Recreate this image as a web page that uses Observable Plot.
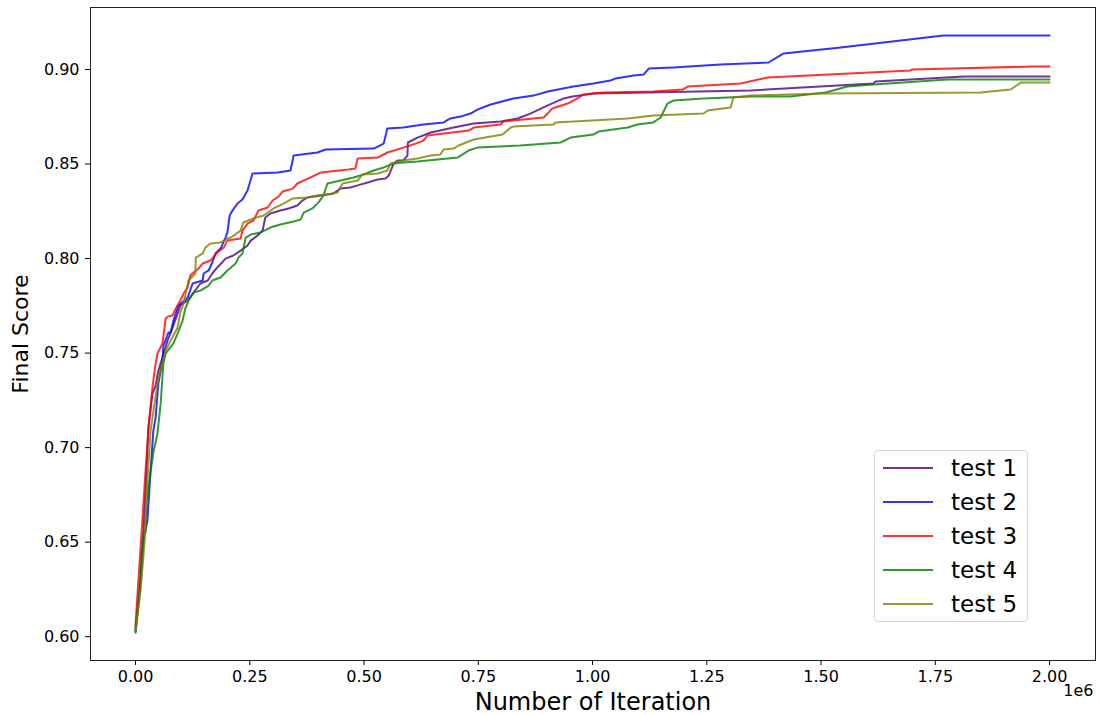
<!DOCTYPE html>
<html>
<head>
<meta charset="utf-8">
<script src="https://cdn.jsdelivr.net/npm/d3@7"></script>
<script src="https://cdn.jsdelivr.net/npm/@observablehq/plot@0.6"></script>
<style>
  html, body { margin: 0; padding: 0; background: #fff; }
  #wrap { position: relative; width: 1100px; height: 715px; font-family: "DejaVu Sans", sans-serif; }
  #legend { position: absolute; left: 874px; top: 450px; width: 154px; height: 172px;
    border: 1px solid #d6d6d6; border-radius: 4px; background: rgba(255,255,255,0.8); box-sizing: border-box; }
  .row { position: absolute; left: 0; height: 30px; display: flex; align-items: center; }
  .row svg { margin-left: 8px; }
  .row span { margin-left: 18px; font-size: 23px; color: #000; }
</style>
</head>
<body>
<div id="wrap"><div id="chart"></div><div id="legend"></div></div>
<script>
// x = iteration count, y = final score
const test1 = [[0,0.6043],[9000,0.6244],[17500,0.6561],[24000,0.6878],[28000,0.7106],[37000,0.7286],[44000,0.7328],[50000,0.7408],[59000,0.7476],[70000,0.7566],[81000,0.7635],[92000,0.7709],[98000,0.7752],[114000,0.7778],[127000,0.7820],[142000,0.7868],[158000,0.7884],[168000,0.7921],[179000,0.7953],[197000,0.8000],[214000,0.8016],[230000,0.8042],[245000,0.8069],[252000,0.8095],[267000,0.8122],[278000,0.8148],[284000,0.8217],[295000,0.8238],[317000,0.8254],[335000,0.8265],[354000,0.8281],[365000,0.8307],[376000,0.8323],[405000,0.8334],[433000,0.8344],[449000,0.8371],[470000,0.8376],[486000,0.8387],[508000,0.8402],[530000,0.8418],[547000,0.8423],[554000,0.8439],[565000,0.8503],[573000,0.8519],[586000,0.8519],[595000,0.8545],[596000,0.8614],[617000,0.8640],[646000,0.8667],[696000,0.8693],[740000,0.8714],[799000,0.8725],[836000,0.8741],[864000,0.8767],[902000,0.8810],[937000,0.8847],[956000,0.8857],[1002000,0.8873],[1346000,0.8889],[1615000,0.8926],[1619000,0.8937],[1812000,0.8963],[2000000,0.8963]];
const test2 = [[0,0.6032],[11000,0.6296],[17500,0.6508],[26000,0.6614],[33000,0.6878],[39000,0.7090],[44000,0.7159],[50000,0.7339],[59000,0.7460],[61000,0.7540],[72000,0.7609],[77000,0.7609],[83000,0.7672],[94000,0.7752],[114000,0.7794],[125000,0.7868],[147000,0.7884],[149000,0.7921],[160000,0.7937],[168000,0.7979],[175000,0.8027],[186000,0.8053],[197000,0.8111],[201000,0.8138],[206000,0.8228],[212000,0.8254],[223000,0.8291],[234000,0.8312],[245000,0.8360],[256000,0.8450],[311000,0.8455],[339000,0.8466],[346000,0.8545],[398000,0.8561],[416000,0.8577],[521000,0.8582],[543000,0.8608],[551000,0.8688],[586000,0.8693],[630000,0.8709],[674000,0.8720],[689000,0.8741],[711000,0.8751],[733000,0.8767],[748000,0.8788],[777000,0.8815],[827000,0.8847],[871000,0.8862],[902000,0.8884],[958000,0.8910],[1002000,0.8926],[1039000,0.8942],[1050000,0.8952],[1090000,0.8968],[1112000,0.8974],[1123000,0.9005],[1177000,0.9011],[1280000,0.9026],[1385000,0.9037],[1418000,0.9085],[1543000,0.9116],[1768000,0.9180],[2000000,0.9180]];
const test3 = [[0,0.6059],[7000,0.6323],[15000,0.6614],[22000,0.6878],[28000,0.7090],[37000,0.7318],[44000,0.7445],[48000,0.7498],[59000,0.7551],[66000,0.7683],[70000,0.7693],[81000,0.7699],[88000,0.7736],[98000,0.7778],[105000,0.7815],[114000,0.7847],[120000,0.7910],[127000,0.7926],[138000,0.7947],[147000,0.7974],[164000,0.7990],[179000,0.8032],[193000,0.8058],[201000,0.8095],[230000,0.8106],[234000,0.8148],[245000,0.8185],[258000,0.8201],[269000,0.8254],[289000,0.8270],[300000,0.8307],[313000,0.8328],[322000,0.8355],[344000,0.8370],[354000,0.8397],[383000,0.8429],[405000,0.8455],[466000,0.8471],[481000,0.8476],[486000,0.8529],[530000,0.8534],[551000,0.8561],[586000,0.8587],[613000,0.8608],[630000,0.8624],[639000,0.8651],[729000,0.8677],[740000,0.8693],[799000,0.8709],[805000,0.8725],[893000,0.8746],[904000,0.8773],[912000,0.8794],[945000,0.8820],[967000,0.8847],[980000,0.8868],[1022000,0.8878],[1133000,0.8884],[1197000,0.8894],[1208000,0.8910],[1324000,0.8926],[1383000,0.8958],[1696000,0.8995],[1700000,0.9000],[1965000,0.9016],[2000000,0.9016]];
const test4 = [[0,0.6022],[7000,0.6191],[11000,0.6313],[17500,0.6545],[22000,0.6551],[28000,0.6789],[39000,0.6974],[48000,0.7074],[55000,0.7233],[61000,0.7445],[66000,0.7498],[83000,0.7551],[92000,0.7603],[103000,0.7672],[109000,0.7736],[116000,0.7778],[127000,0.7820],[142000,0.7831],[160000,0.7857],[168000,0.7884],[186000,0.7900],[201000,0.7937],[219000,0.7974],[225000,0.8005],[234000,0.8027],[241000,0.8111],[252000,0.8127],[274000,0.8138],[295000,0.8164],[317000,0.8180],[346000,0.8196],[361000,0.8206],[368000,0.8243],[387000,0.8265],[400000,0.8296],[411000,0.8333],[420000,0.8397],[449000,0.8413],[477000,0.8429],[499000,0.8445],[521000,0.8466],[543000,0.8482],[565000,0.8503],[586000,0.8508],[617000,0.8513],[705000,0.8534],[729000,0.8572],[748000,0.8587],[842000,0.8598],[930000,0.8614],[952000,0.8640],[1002000,0.8656],[1013000,0.8672],[1077000,0.8693],[1098000,0.8709],[1133000,0.8720],[1149000,0.8746],[1164000,0.8820],[1177000,0.8836],[1243000,0.8847],[1346000,0.8857],[1433000,0.8857],[1510000,0.8878],[1558000,0.8910],[1615000,0.8921],[1777000,0.8947],[2000000,0.8947]];
const test5 = [[0,0.6022],[11000,0.6244],[20000,0.6508],[26000,0.6826],[33000,0.7090],[48000,0.7339],[59000,0.7450],[66000,0.7513],[77000,0.7566],[92000,0.7635],[98000,0.7714],[105000,0.7762],[116000,0.7884],[131000,0.7921],[132000,0.8005],[147000,0.8027],[153000,0.8058],[164000,0.8080],[186000,0.8085],[201000,0.8106],[208000,0.8111],[230000,0.8148],[236000,0.8191],[258000,0.8212],[280000,0.8228],[302000,0.8265],[324000,0.8291],[344000,0.8318],[376000,0.8323],[398000,0.8334],[420000,0.8339],[442000,0.8349],[453000,0.8397],[486000,0.8413],[497000,0.8445],[530000,0.8450],[551000,0.8466],[558000,0.8503],[586000,0.8519],[617000,0.8529],[646000,0.8545],[667000,0.8550],[674000,0.8577],[696000,0.8582],[707000,0.8598],[740000,0.8630],[803000,0.8656],[821000,0.8693],[827000,0.8698],[915000,0.8709],[919000,0.8720],[1077000,0.8741],[1133000,0.8757],[1243000,0.8767],[1252000,0.8783],[1302000,0.8799],[1308000,0.8852],[1346000,0.8862],[1505000,0.8873],[1849000,0.8878],[1915000,0.8894],[1937000,0.8931],[2000000,0.8931]];

const seriesNames = ["test 1", "test 2", "test 3", "test 4", "test 5"];
const seriesColors = ["#4b0082", "#0000ff", "#ff0000", "#008000", "#808000"];
const xTicks = [0, 250000, 500000, 750000, 1000000, 1250000, 1500000, 1750000, 2000000];
const yTicks = [0.60, 0.65, 0.70, 0.75, 0.80, 0.85, 0.90];

const allSeries = [test1, test2, test3, test4, test5];
const rows = allSeries.flatMap((s, i) => s.map(([x, y]) => ({x, y, name: seriesNames[i]})));

const chart = Plot.plot({
  width: 1100,
  height: 715,
  marginLeft: 90,
  marginRight: 5,
  marginTop: 7,
  marginBottom: 55,
  style: {fontFamily: "DejaVu Sans, sans-serif", fontSize: "16px", color: "#000", background: "#fff"},
  x: {domain: [-98500, 2100500]},
  y: {domain: [0.5874, 0.9328]},
  color: {domain: seriesNames, range: seriesColors},
  marks: [
    Plot.line(rows, {x: "x", y: "y", z: "name", stroke: "name", strokeWidth: 2, strokeOpacity: 0.8}),
    Plot.frame({stroke: "#222", strokeWidth: 1}),
    Plot.axisX({ticks: xTicks, tickSize: 5, tickPadding: 5, tickFormat: d => (d / 1e6).toFixed(2), label: null, fontSize: 16}),
    Plot.axisY({ticks: yTicks, tickSize: 5, tickPadding: 6, tickFormat: d => d.toFixed(2), label: null, fontSize: 16}),
    Plot.text(["Number of Iteration"], {frameAnchor: "bottom", lineAnchor: "middle", textAnchor: "middle", dy: 42, fontSize: 24, text: d => d}),
    Plot.text(["Final Score"], {frameAnchor: "left", lineAnchor: "middle", textAnchor: "middle", dx: -70, rotate: -90, fontSize: 22, text: d => d}),
    Plot.text(["1e6"], {frameAnchor: "bottom-right", lineAnchor: "middle", dy: 30, dx: -2, textAnchor: "end", fontSize: 16, text: d => d})
  ]
});
document.getElementById("chart").appendChild(chart);

const legend = document.getElementById("legend");
seriesNames.forEach((name, i) => {
  const row = document.createElement("div");
  row.className = "row";
  row.style.top = (2 + i * 34) + "px";
  row.innerHTML = `<svg width="50" height="4"><line x1="0" y1="2" x2="50" y2="2" stroke="${seriesColors[i]}" stroke-opacity="0.8" stroke-width="2"/></svg><span>${name}</span>`;
  legend.appendChild(row);
});
</script>
</body>
</html>
